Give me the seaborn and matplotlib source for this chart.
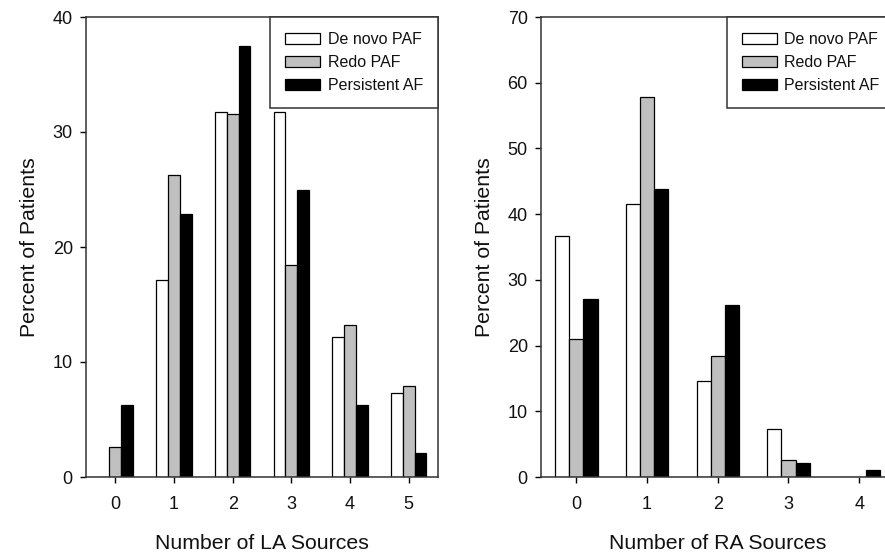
import matplotlib
matplotlib.use("Agg")
import matplotlib.pyplot as plt
import seaborn as sns
import pandas as pd

groups = ["De novo PAF", "Redo PAF", "Persistent AF"]
colors = ["white", "#c0c0c0", "black"]

la_sources = ["0", "1", "2", "3", "4", "5"]
la_denovo = [0.0, 17.1, 31.7, 31.7, 12.2, 7.3]
la_redo = [2.6, 26.3, 31.6, 18.4, 13.2, 7.9]
la_persistent = [6.25, 22.9, 37.5, 25.0, 6.25, 2.1]

ra_sources = ["0", "1", "2", "3", "4"]
ra_denovo = [36.6, 41.5, 14.6, 7.3, 0.0]
ra_redo = [21.0, 57.9, 18.4, 2.6, 0.0]
ra_persistent = [27.1, 43.8, 26.1, 2.1, 1.0]

la_yticks = [0, 10, 20, 30, 40]
ra_yticks = [0, 10, 20, 30, 40, 50, 60, 70]


def long_df(cats, a, b, c):
    rows = []
    for g, vals in zip(groups, [a, b, c]):
        for cat, v in zip(cats, vals):
            rows.append({"src": cat, "pct": v, "grp": g})
    return pd.DataFrame(rows)


sns.set_style("ticks")
plt.rcParams["font.family"] = ["Liberation Sans", "DejaVu Sans"]

fig = plt.figure(figsize=(8.85, 5.56), dpi=100)
ax1 = fig.add_axes([86 / 885, 79 / 556, 352 / 885, 460 / 556])
ax2 = fig.add_axes([541 / 885, 79 / 556, 353.5 / 885, 460 / 556])

panels = [
    (ax1, long_df(la_sources, la_denovo, la_redo, la_persistent), la_sources, la_yticks, "Number of LA Sources"),
    (ax2, long_df(ra_sources, ra_denovo, ra_redo, ra_persistent), ra_sources, ra_yticks, "Number of RA Sources"),
]

for ax, df, cats, yt, xl in panels:
    sns.barplot(data=df, x="src", y="pct", hue="grp", order=cats, hue_order=groups,
                palette=colors, edgecolor="black", linewidth=0.9, width=0.6,
                saturation=1, errorbar=None, ax=ax)
    ax.set_xlim(-0.5, len(cats) - 0.5)
    ax.set_ylim(0, yt[-1])
    ax.set_yticks(yt)
    ax.set_xlabel(xl, fontsize=15.3, labelpad=15, color="#111111")
    ax.set_ylabel("Percent of Patients", fontsize=15.3, labelpad=10, color="#111111")
    ax.tick_params(axis="both", direction="out", length=4.5, width=1, color="black",
                   labelsize=13, labelcolor="#111111")
    ax.tick_params(axis="x", pad=9)
    ax.tick_params(axis="y", pad=5)
    for s in ax.spines.values():
        s.set_visible(True)
        s.set_color("#333333")
        s.set_linewidth(1.1)
    leg = ax.legend(loc="upper right", borderaxespad=0, fancybox=False,
                    edgecolor="#333333", framealpha=1, fontsize=11.5,
                    handlelength=2.2, handleheight=0.75, handletextpad=0.45,
                    labelspacing=0.5, borderpad=0.95)
    leg.get_frame().set_linewidth(1.1)
    for t in leg.get_texts():
        t.set_color("#111111")
    for h in leg.legend_handles:
        h.set_edgecolor("black")
        h.set_linewidth(0.9)

fig.savefig("out.png", dpi=100)
